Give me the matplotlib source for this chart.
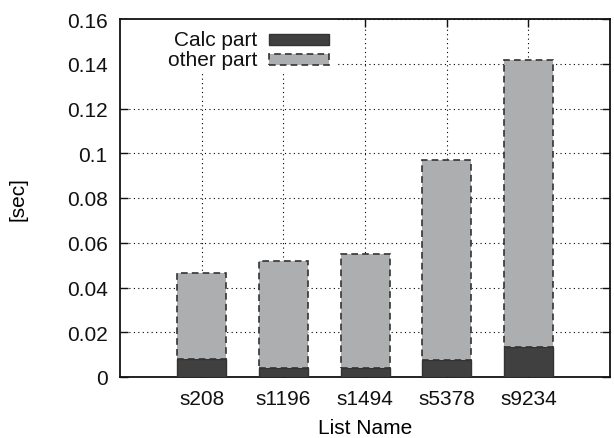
import matplotlib
matplotlib.use("Agg")
import matplotlib.pyplot as plt
from matplotlib.patches import Rectangle
import numpy as np

plt.rcParams["font.family"] = ["Liberation Sans", "DejaVu Sans"]

# values
list_names = ["s208", "s1196", "s1494", "s5378", "s9234"]
calc_part = [0.0082, 0.0042, 0.0038, 0.0075, 0.0134]
total_time = [0.0465, 0.0517, 0.0549, 0.0972, 0.1418]
other_part = [t - c for t, c in zip(total_time, calc_part)]
series_names = ["Calc part", "other part"]

CALC_COLOR = "#404040"
OTHER_COLOR = "#adaeb0"
EDGE = "#333333"
DASH = (0, (4, 2.5))
FS = 15

W, H = 614, 439
fig = plt.figure(figsize=(W / 100, H / 100), dpi=100)
ax = fig.add_axes([120 / W, 61 / H, 490 / W, 358 / H])

x = np.arange(1, len(list_names) + 1)
width = 0.6

ax.bar(x, calc_part, width, color=CALC_COLOR, edgecolor=EDGE,
       linewidth=1.0, zorder=3)
ax.bar(x, other_part, width, bottom=calc_part, color=OTHER_COLOR,
       edgecolor=EDGE, linewidth=1.2, linestyle=DASH, zorder=3)

ax.set_xlim(0, 6)
ax.set_ylim(0, 0.16)
ax.set_xticks(x)
ax.set_xticklabels(list_names)
ax.set_yticks(np.arange(0, 0.161, 0.02))
ax.set_yticklabels(["0", "0.02", "0.04", "0.06", "0.08", "0.1",
                    "0.12", "0.14", "0.16"])

ax.grid(True, linestyle=(0, (1, 3)), color="black", linewidth=0.8)
ax.set_axisbelow(True)
ax.tick_params(direction="in", length=6, width=1.0, top=True, right=True,
               labelsize=FS, colors="#111111")
ax.tick_params(axis="y", pad=9)
ax.tick_params(axis="x", pad=9)
for s in ax.spines.values():
    s.set_linewidth(1.3)
    s.set_color("#111111")

ax.set_ylabel("[sec]", fontsize=FS, labelpad=28)
ax.set_xlabel("List Name", fontsize=FS, labelpad=7)


# gnuplot-style key: label right-aligned, sample box on the right
def px(xp, yp):
    return xp / W, 1 - yp / H


# key area hides the grid behind it
bx, by = px(120, 72)
ax.add_patch(Rectangle((bx, by), (337 - 120) / W, (72 - 20) / H,
                       transform=fig.transFigure, facecolor="white",
                       edgecolor="none", zorder=1))

styles = [dict(facecolor=CALC_COLOR, edgecolor=EDGE, linewidth=1.0),
          dict(facecolor=OTHER_COLOR, edgecolor=EDGE, linewidth=1.2,
               linestyle=DASH)]
for i, (name, st) in enumerate(zip(series_names, styles)):
    yc = 40 + 20 * i
    x0, y0 = px(269, yc + 5.5)
    fig.add_artist(Rectangle((x0, y0), 60 / W, 11 / H,
                             transform=fig.transFigure, zorder=5, **st))
    tx, ty = px(257, yc + 1)
    fig.text(tx, ty, name, ha="right", va="center", fontsize=FS,
             color="#111111", zorder=5)

fig.savefig("out.png", dpi=100)
